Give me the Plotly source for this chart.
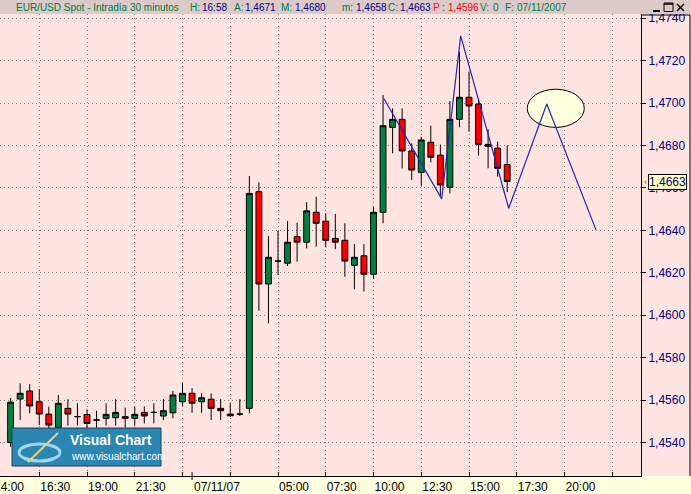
import plotly.graph_objects as go

# ---------------- data ----------------
bar_index = list(range(2, 55))  # 30-minute bars, index 0 = 14:00 on 06/11/07
opens = [1.4540, 1.45605, 1.45643, 1.45592, 1.45534, 1.45472, 1.45561, 1.45522, 1.45532, 1.45506,
         1.45514, 1.45517, 1.45522, 1.45514, 1.45542, 1.45542, 1.45525, 1.4554, 1.45592, 1.45632,
         1.45592, 1.45604, 1.45561, 1.45534, 1.45534, 1.45561, 1.46582, 1.46147, 1.46255, 1.46245,
         1.4637, 1.46344, 1.46485, 1.46443, 1.46362, 1.46353, 1.46235, 1.4628, 1.46193, 1.46485,
         1.46885, 1.46923, 1.46774, 1.46673, 1.46815, 1.46754, 1.46603, 1.46923, 1.47027, 1.46995,
         1.46796, 1.46787, 1.4671]
highs = [1.4561, 1.45679, 1.45675, 1.45651, 1.45569, 1.45624, 1.45604, 1.45585, 1.45556, 1.4555,
         1.45585, 1.45604, 1.45565, 1.45569, 1.4557, 1.45585, 1.45604, 1.45644, 1.45682, 1.45656,
         1.45632, 1.45632, 1.45604, 1.45585, 1.45604, 1.46656, 1.46626, 1.46373, 1.46397, 1.46444,
         1.46436, 1.46533, 1.46558, 1.4648, 1.46477, 1.46433, 1.46335, 1.46335, 1.46511, 1.47038,
         1.46975, 1.46975, 1.4681, 1.46841, 1.46893, 1.46805, 1.47009, 1.47242, 1.47148, 1.47022,
         1.46876, 1.46818, 1.4680]
lows = [1.4538, 1.45506, 1.45538, 1.45482, 1.4545, 1.4543, 1.4548, 1.4548, 1.4546, 1.4547,
        1.4548, 1.4548, 1.4547, 1.4548, 1.4549, 1.4549, 1.45506, 1.45514, 1.45572, 1.4554,
        1.4554, 1.45506, 1.45506, 1.4552, 1.45525, 1.45538, 1.46021, 1.45962, 1.4619, 1.46232,
        1.46252, 1.46315, 1.46323, 1.4632, 1.46311, 1.46181, 1.46122, 1.46111, 1.46171, 1.46433,
        1.46763, 1.46692, 1.46637, 1.4661, 1.4672, 1.46563, 1.46574, 1.46885, 1.46865, 1.46752,
        1.46692, 1.46653, 1.4658]
closes = [1.4559, 1.45632, 1.45572, 1.45534, 1.45482, 1.45585, 1.45534, 1.45522, 1.4549, 1.45506,
          1.45533, 1.45542, 1.45514, 1.45533, 1.45525, 1.45542, 1.4555, 1.45624, 1.45632, 1.45585,
          1.45611, 1.45561, 1.4555, 1.45526, 1.45534, 1.46574, 1.46147, 1.46273, 1.46255, 1.46344,
          1.46344, 1.46492, 1.46433, 1.46353, 1.46344, 1.46255, 1.46273, 1.46193, 1.46485, 1.46893,
          1.46923, 1.46774, 1.46684, 1.46826, 1.46744, 1.46614, 1.46923, 1.47027, 1.46986, 1.46805,
          1.46805, 1.46692, 1.4663]

tick_bars = [5, 10, 15, 20, 25, 30, 35, 40, 45, 50, 55, 60, 65]
tick_text = ["16:30", "19:00", "21:30", "", "", "05:00", "07:30", "10:00", "12:30", "15:00", "17:30", "20:00", ""]
date_bar = 21
date_label = "07/11/07"
first_label = "14:00"

price_ticks = [1.4540, 1.4560, 1.4580, 1.4600, 1.4620, 1.4640, 1.4660, 1.4680, 1.4700, 1.4720, 1.4740]

zig_x = [41.1, 47.14, 49.13, 54.16, 58.14, 63.3]
zig_y = [1.4702, 1.46548, 1.47316, 1.46504, 1.46995, 1.46402]

target_x = [56.1, 62.07]
target_y = [1.46885, 1.47065]

last_price = 1.4663

header_parts = [
    ("EUR/USD Spot - Intradía 30 minutos", "#007a3d", 14),
    ("H:", "#007a3d", 188), ("16:58", "#000080", 200),
    ("A:", "#007a3d", 232), ("1,4671", "#000080", 243),
    ("M:", "#007a3d", 279), ("1,4680", "#000080", 293),
    ("m:", "#007a3d", 340), ("1,4658", "#000080", 354),
    ("C:", "#007a3d", 386), ("1,4663", "#000080", 398),
    ("P :", "#ff0000", 431), ("1,4596", "#ff0000", 446),
    ("V:", "#007a3d", 478), ("0", "#007a3d", 491),
    ("F:", "#007a3d", 503), ("07/11/2007", "#007a3d", 515),
]

# ---------------- geometry helpers (pixel -> paper) ----------------
W, H = 691, 494
PL, PR, PT, PB = 0, 641, 14, 476
def X(px):
    return (px - PL) / (PR - PL)
def Y(py):
    return (PB - py) / (PB - PT)

FONT = "Arial, Liberation Sans, sans-serif"

fig = go.Figure()

fig.add_trace(go.Candlestick(
    x=bar_index, open=opens, high=highs, low=lows, close=closes,
    increasing=dict(fillcolor="#008040", line=dict(color="black", width=1)),
    decreasing=dict(fillcolor="#ff0000", line=dict(color="black", width=1)),
    whiskerwidth=0, showlegend=False, hoverinfo="skip",
))

fig.add_trace(go.Scatter(
    x=zig_x, y=zig_y, mode="lines",
    line=dict(color="#2626b0", width=1.2), showlegend=False, hoverinfo="skip",
))

shapes = []
# bottom axis panel (yellow)
shapes.append(dict(type="rect", xref="paper", yref="paper", x0=X(0), x1=X(W), y0=Y(H), y1=Y(PB),
                   fillcolor="#ffffe0", line=dict(width=0), layer="below"))
# header bar
shapes.append(dict(type="rect", xref="paper", yref="paper", x0=X(0), x1=X(W), y0=Y(PT), y1=Y(0),
                   fillcolor="#dccaca", line=dict(width=0), layer="above"))
# right panel frame
shapes.append(dict(type="line", xref="paper", yref="paper", x0=X(690), x1=X(690), y0=Y(PB), y1=Y(15),
                   line=dict(color="black", width=1), layer="above"))
shapes.append(dict(type="line", xref="paper", yref="paper", x0=X(PR), x1=X(690), y0=Y(15), y1=Y(15),
                   line=dict(color="black", width=1), layer="above"))
# date separator tick
shapes.append(dict(type="line", xref="x", yref="paper", x0=date_bar, x1=date_bar, y0=Y(480), y1=Y(472),
                   line=dict(color="black", width=1), layer="above"))
# target ellipse
shapes.append(dict(type="circle", xref="x", yref="y", x0=target_x[0], x1=target_x[1],
                   y0=target_y[0], y1=target_y[1], fillcolor="#ffffe0",
                   line=dict(color="black", width=1), layer="between"))
# window buttons
shapes.append(dict(type="line", xref="paper", yref="paper", x0=X(653), x1=X(660), y0=Y(11), y1=Y(11),
                   line=dict(color="black", width=2), layer="above"))
shapes.append(dict(type="rect", xref="paper", yref="paper", x0=X(664), x1=X(673), y0=Y(11.5), y1=Y(3),
                   line=dict(color="black", width=1), layer="above"))
shapes.append(dict(type="line", xref="paper", yref="paper", x0=X(664), x1=X(673), y0=Y(4), y1=Y(4),
                   line=dict(color="black", width=1.5), layer="above"))
shapes.append(dict(type="line", xref="paper", yref="paper", x0=X(677), x1=X(684), y0=Y(4), y1=Y(11),
                   line=dict(color="black", width=1.5), layer="above"))
shapes.append(dict(type="line", xref="paper", yref="paper", x0=X(677), x1=X(684), y0=Y(11), y1=Y(4),
                   line=dict(color="black", width=1.5), layer="above"))
# logo box
shapes.append(dict(type="rect", xref="paper", yref="paper", x0=X(12), x1=X(161), y0=Y(466), y1=Y(428),
                   fillcolor="#2c86b2", line=dict(color="#1b3f55", width=1), layer="above"))
shapes.append(dict(type="circle", xref="paper", yref="paper", x0=X(19), x1=X(60), y0=Y(461), y1=Y(444),
                   fillcolor="rgba(0,0,0,0)", line=dict(color="#9fd6f0", width=3), layer="above"))
shapes.append(dict(type="line", xref="paper", yref="paper", x0=X(28), x1=X(58), y0=Y(462), y1=Y(433),
                   line=dict(color="#e8d27a", width=2), layer="above"))

annotations = []
for txt, col, px in header_parts:
    annotations.append(dict(text=txt, xref="paper", yref="paper", x=X(px), y=Y(7.5),
                            xanchor="left", yanchor="middle", showarrow=False,
                            font=dict(family=FONT, size=10, color=col)))
annotations.append(dict(text=first_label, xref="paper", yref="paper", x=X(-8.5), y=Y(487),
                        xanchor="left", yanchor="middle", showarrow=False,
                        font=dict(family=FONT, size=12, color="black")))
annotations.append(dict(text=date_label, xref="x", yref="paper", x=date_bar, y=Y(487),
                        xanchor="left", yanchor="middle", showarrow=False, xshift=0,
                        font=dict(family=FONT, size=12, color="black")))
annotations.append(dict(text=f"{last_price:.4f}".replace(".", ","), xref="paper", yref="y", x=X(648), y=last_price,
                        xanchor="left", yanchor="middle", showarrow=False,
                        bgcolor="#ffffc0", bordercolor="black", borderwidth=1, borderpad=0,
                        font=dict(family=FONT, size=12, color="#000080")))
annotations.append(dict(text="‹", xref="paper", yref="y", x=X(642), y=last_price,
                        xanchor="left", yanchor="middle", showarrow=False,
                        font=dict(family=FONT, size=9, color="#555555")))
annotations.append(dict(text="<b>Visual Chart</b>", xref="paper", yref="paper", x=X(68), y=Y(440),
                        xanchor="left", yanchor="middle", showarrow=False,
                        font=dict(family=FONT, size=14, color="white")))
annotations.append(dict(text="www.visualchart.com", xref="paper", yref="paper", x=X(69), y=Y(456),
                        xanchor="left", yanchor="middle", showarrow=False,
                        font=dict(family=FONT, size=10, color="white")))

grid = dict(showgrid=True, gridcolor="#8a7a7a", gridwidth=1, griddash="1px,3px", zeroline=False)

fig.update_layout(
    width=W, height=H, autosize=False,
    margin=dict(l=PL, r=W - PR, t=PT, b=H - PB, pad=0),
    paper_bgcolor="#ffe4e1", plot_bgcolor="#ffe4e1",
    showlegend=False, separators=",.",
    boxgap=0.12,
    shapes=shapes, annotations=annotations,
    xaxis=dict(range=[8.5 / 9.55, (PR + 8.5) / 9.55], tickmode="array", tickvals=tick_bars,
               ticktext=tick_text, ticks="inside", ticklen=4, tickcolor="black",
               showline=True, linecolor="black", linewidth=1,
               ticklabelposition="outside right",
               tickfont=dict(family=FONT, size=12, color="black"),
               rangeslider=dict(visible=False), fixedrange=True, **grid),
    yaxis=dict(side="right", range=[1.47 - (PB - 103) / 21220, 1.47 + (103 - PT) / 21220],
               tickmode="array", tickvals=price_ticks,
               ticktext=[f"{v:.4f}".replace(".", ",") for v in price_ticks],
               ticks="outside", ticklen=4, tickcolor="black",
               showline=True, linecolor="black", linewidth=1,
               tickfont=dict(family=FONT, size=12, color="#000080"),
               fixedrange=True, **grid),
)

fig.write_html("out.html", config={"displayModeBar": False},
               post_script="document.body.style.margin='0';document.body.style.overflow='hidden';")
